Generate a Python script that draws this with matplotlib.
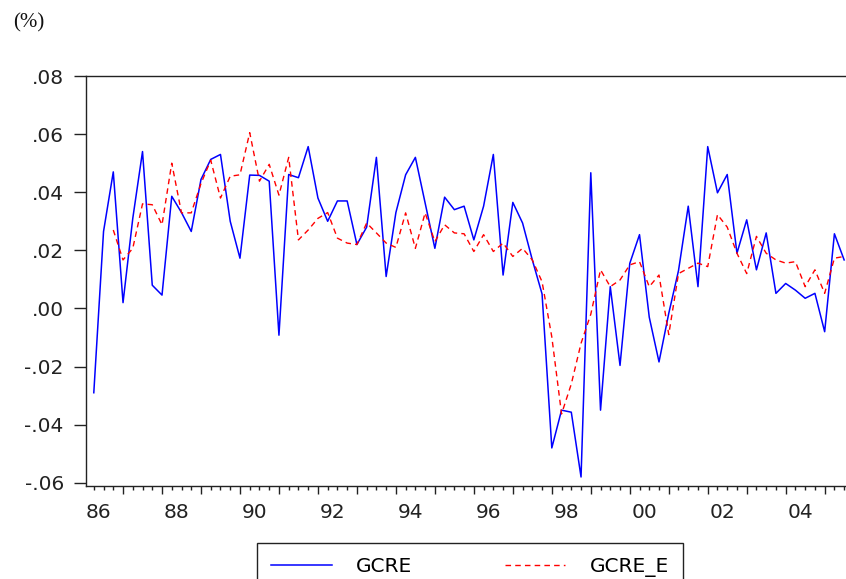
import numpy as np
import matplotlib.pyplot as plt

# quarterly series, 1986Q1 onwards
start_year = 1986
gcre = [-0.029, 0.0265, 0.047, 0.002, 0.031, 0.054, 0.008, 0.0046, 0.0386, 0.033,
        0.0265, 0.0444, 0.0513, 0.053, 0.030, 0.0173, 0.0459, 0.0458, 0.0438, -0.0092,
        0.0461, 0.045, 0.0557, 0.038, 0.030, 0.037, 0.037, 0.022, 0.028, 0.052,
        0.011, 0.033, 0.046, 0.052, 0.0363, 0.0207, 0.0383, 0.034, 0.0352, 0.0236,
        0.0352, 0.053, 0.0115, 0.0365, 0.0294, 0.0167, 0.005, -0.048, -0.035, -0.0357,
        -0.058, 0.0467, -0.035, 0.0075, -0.0196, 0.0155, 0.0254, -0.003, -0.0184, -0.0017,
        0.013, 0.0352, 0.0075, 0.0557, 0.0398, 0.0461, 0.019, 0.0305, 0.0133, 0.026,
        0.0052, 0.0086, 0.0063, 0.0035, 0.0052, -0.008, 0.0257, 0.0167]
gcre_e = [np.nan, np.nan, 0.027, 0.0167, 0.0207, 0.036, 0.0357, 0.0288, 0.050, 0.0329,
          0.0329, 0.043, 0.051, 0.038, 0.0455, 0.046, 0.0605, 0.0438, 0.0496, 0.039,
          0.052, 0.0236, 0.027, 0.031, 0.033, 0.0242, 0.0225, 0.022, 0.0294, 0.026,
          0.0225, 0.021, 0.0329, 0.0207, 0.0329, 0.023, 0.0288, 0.026, 0.0257, 0.0196,
          0.0254, 0.0196, 0.0225, 0.0179, 0.0207, 0.0167, 0.0092, -0.0098, -0.0363, -0.026,
          -0.012, -0.002, 0.0133, 0.0075, 0.0098, 0.015, 0.0161, 0.0075, 0.0115, -0.009,
          0.012, 0.0138, 0.0156, 0.0144, 0.0323, 0.028, 0.019, 0.012, 0.0248, 0.019,
          0.0167, 0.0156, 0.0161, 0.0075, 0.0133, 0.0052, 0.0173, 0.0179]
year_labels = ['86', '88', '90', '92', '94', '96', '98', '00', '02', '04']
y_ticks = [-0.06, -0.04, -0.02, 0.00, 0.02, 0.04, 0.06, 0.08]
y_labels = ['-.06', '-.04', '-.02', '.00', '.02', '.04', '.06', '.08']

x = np.arange(len(gcre))

fig = plt.figure(figsize=(8.46, 5.79), dpi=100)
ax = fig.add_axes([86 / 846, 1 - 486 / 579, 764 / 846, 410 / 579])

ax.plot(x, gcre, color='#0000ff', lw=1.1, label='GCRE')
ax.plot(x, gcre_e, color='#ff0000', lw=1.0, ls=(0, (4, 3)), label='GCRE_E')

ax.set_xlim(-0.8, 77.6)
ax.set_ylim(-0.0611, 0.08)

for s in ax.spines.values():
    s.set_color('#222222')
    s.set_linewidth(1.0)

ax.set_yticks(y_ticks)
ax.set_yticklabels(y_labels)
ax.tick_params(axis='y', direction='out', length=9, width=1, pad=7,
               labelsize=14.5, colors='#222222')

# long ticks each year, short ticks each quarter
ax.set_xticks(np.arange(3, len(gcre), 4))
ax.set_xticks(x, minor=True)
ax.tick_params(axis='x', which='major', direction='out', length=6, width=1,
               labelbottom=False, colors='#222222')
ax.tick_params(axis='x', which='minor', direction='out', length=3, width=1,
               colors='#222222')

# year labels on a second bottom axis
sec = ax.secondary_xaxis('bottom')
sec.set_xticks(0.5 + 8 * np.arange(len(year_labels)))
sec.set_xticklabels(year_labels)
sec.tick_params(length=0, pad=12, labelsize=14.5, colors='#222222')
sec.spines['bottom'].set_visible(False)

fig.text(13 / 846, 1 - 23 / 579, '(%)', family='Liberation Serif', fontsize=15,
         va='center', ha='left', color='#111111')

leg = fig.legend(loc='upper left',
                 bbox_to_anchor=(257 / 846, 1 - 543 / 579 - 0.1, 426 / 846, 0.1),
                 mode='expand', ncol=2, fontsize=14.5, frameon=True, fancybox=False,
                 edgecolor='#222222', framealpha=1, handlelength=3.0,
                 handletextpad=1.2, columnspacing=2.0, borderpad=0.7,
                 borderaxespad=0)
leg.get_frame().set_linewidth(1.0)

fig.savefig('out.png', dpi=100)
